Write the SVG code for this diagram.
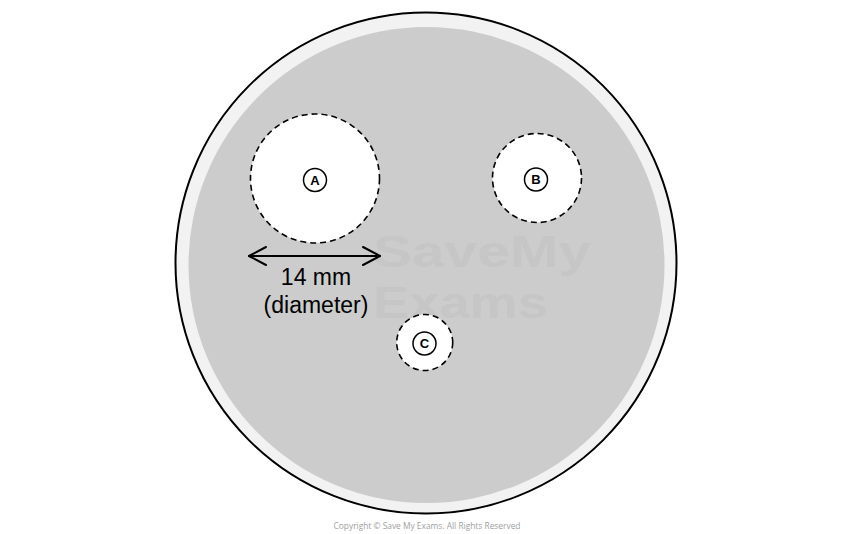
<svg xmlns="http://www.w3.org/2000/svg" width="854" height="534" viewBox="0 0 854 534">
<style>
.zone{fill:#ffffff;stroke:#000000;stroke-width:1.6;stroke-dasharray:6 4}
.lab{fill:#ffffff;stroke:#000000;stroke-width:1.5}
.lt{font-family:"Liberation Sans",Arial,sans-serif;font-size:13px;font-weight:bold;text-anchor:middle;fill:#000000}
.txt{font-family:"Liberation Sans",Arial,sans-serif;font-size:23px;text-anchor:middle;fill:#000000}
.wm{font-family:"Liberation Sans",Arial,sans-serif;font-size:44px;font-weight:bold;fill:#c6c6c6}
.arr{fill:none;stroke:#000000;stroke-width:2;stroke-linecap:round;stroke-linejoin:round}
</style>
<rect width="854" height="534" fill="#ffffff"/>
<g id="dish">
<circle cx="426" cy="263" r="250.5" fill="#f2f2f2" stroke="#000000" stroke-width="2"/>
<circle cx="426.5" cy="265" r="238" fill="#cccccc"/>
</g>
<g id="watermark">
<text class="wm" x="373" y="267" textLength="218" lengthAdjust="spacingAndGlyphs">SaveMy</text>
<text class="wm" x="373" y="318" textLength="175" lengthAdjust="spacingAndGlyphs">Exams</text>
</g>
<g id="zoneA">
<circle class="zone" cx="315" cy="178.5" r="64.5"/>
<circle class="lab" cx="315" cy="180" r="11.5"/>
<text class="lt" x="315" y="184.7">A</text>
</g>
<g id="zoneB">
<circle class="zone" cx="537" cy="178" r="44.5"/>
<circle class="lab" cx="536" cy="179.5" r="11.5"/>
<text class="lt" x="536" y="184.2">B</text>
</g>
<g id="zoneC">
<circle class="zone" cx="424.7" cy="342.5" r="28"/>
<circle class="lab" cx="424.5" cy="343.5" r="11.5"/>
<text class="lt" x="424.5" y="348.2">C</text>
</g>
<g id="connectors">
<line class="arr" x1="249" y1="256" x2="380" y2="256"/>
<polyline class="arr" points="266,247 249,256 266,265"/>
<polyline class="arr" points="363,247 380,256 363,265"/>
</g>
<g id="label">
<text class="txt" x="316" y="285">14 mm</text>
<text class="txt" x="316" y="313">(diameter)</text>
</g>
<text x="427" y="529" font-family="'Open Sans','Liberation Sans',Arial,sans-serif" font-size="8.4" fill="#a0a0a0" text-anchor="middle">Copyright © Save My Exams. All Rights Reserved</text>
</svg>
